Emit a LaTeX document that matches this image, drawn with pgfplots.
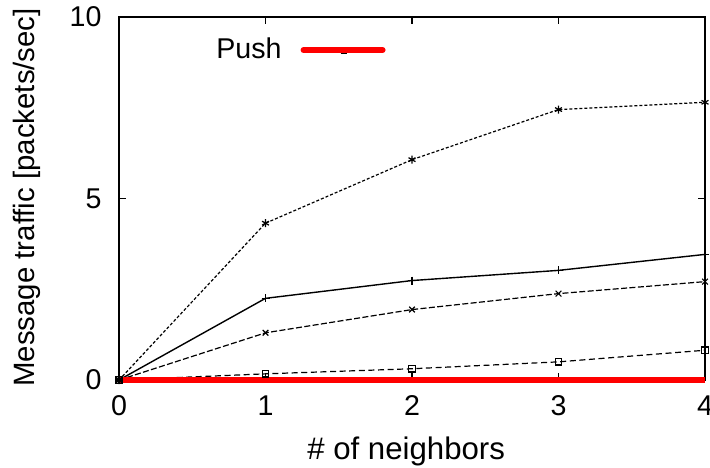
\documentclass[border=0pt]{standalone}
\usepackage{fontspec}
\setmainfont{Liberation Sans}
\usepackage{pgfplots}
\pgfplotsset{compat=1.18}

\begin{document}
\begin{tikzpicture}
% fixed page: 355pt x 233.5pt, axis box lower-left at (0,0)
\path[use as bounding box] (-59.5pt,-43.5pt) rectangle (295.5pt,190pt);
\begin{axis}[
    scale only axis,
    width=293pt, height=181.5pt,
    xmin=0, xmax=4, ymin=0, ymax=10,
    xtick={0,1,2,3,4}, ytick={0,5,10},
    tick align=inside,
    major tick length=3.5pt,
    tick style={black, line width=0.7pt},
    axis line style={line width=0.9pt},
    font=\fontsize{14.3}{17}\selectfont,
    /pgf/number format/assume math mode=true,
    yticklabel style={xshift=-5.2pt},
    xticklabel style={yshift=-4.2pt},
    xlabel={\# of neighbors},
    ylabel={Message traffic [packets/sec]},
    xlabel style={at={(axis description cs:0.49,-0.197)}, anchor=center,
        font=\fontsize{15.6}{18}\selectfont},
    ylabel style={at={(axis description cs:-0.157,0.503)}, anchor=center,
        font=\fontsize{14.7}{17}\selectfont},
    clip=false,
    legend plot pos=right,
    legend style={draw=none, fill=none, inner sep=0pt,
        nodes={inner sep=0pt}, column sep=9.5pt,
        at={(axis description cs:0.1655,0.909)}, anchor=west,
        font=\fontsize{14.3}{17}\selectfont},
]
\addplot[black, line width=0.6pt, dash pattern=on 1.5pt off 1pt, mark=asterisk, mark size=2pt, mark options={solid}, forget plot]
  coordinates {(0,0) (1,4.32) (2,6.07) (3,7.45) (4,7.65)};
\addplot[black, line width=0.7pt, mark=+, mark size=2pt, forget plot]
  coordinates {(0,0) (1,2.25) (2,2.74) (3,3.02) (4,3.46)};
\addplot[black, line width=0.6pt, dash pattern=on 3pt off 1.2pt, mark=x, mark size=2pt, mark options={solid}, forget plot]
  coordinates {(0,0) (1,1.30) (2,1.94) (3,2.38) (4,2.71)};
\addplot[black, line width=0.6pt, dash pattern=on 3pt off 1.8pt, mark=square, mark size=1.6pt, mark options={solid}, forget plot]
  coordinates {(0,0) (1,0.17) (2,0.31) (3,0.50) (4,0.82)};
\addplot[red, line width=3pt, legend image code/.code={
    \draw[red, line width=3pt, line cap=round] (1.5pt,0) -- (41pt,0);
    \draw[black, line width=0.7pt] (20pt,-1.6pt) -- (23pt,-1.6pt);}]
  coordinates {(0,0) (1,0) (2,0) (3,0) (4,0)};
\addlegendentry{Push}
\end{axis}
\end{tikzpicture}
\end{document}
